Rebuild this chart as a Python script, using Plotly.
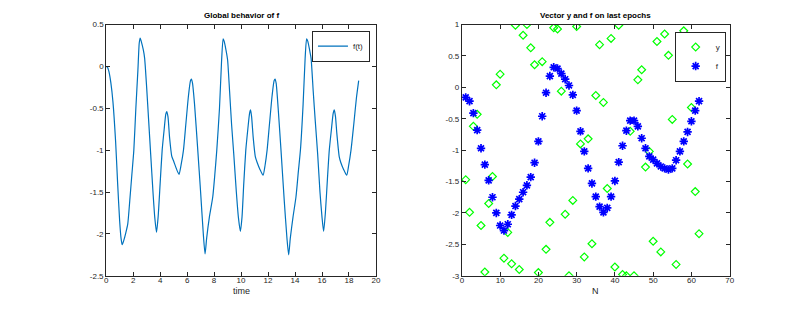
import plotly.graph_objects as go

# ---- left panel: f(t) ----
t_vals = [0, 0.1, 0.2, 0.35, 0.5, 0.7, 0.85, 1.0, 1.1, 1.19, 1.3, 1.45, 1.6, 1.75, 1.9, 2.05,
          2.2, 2.35, 2.45, 2.52, 2.6, 2.75, 2.85, 3.0, 3.15, 3.3, 3.45, 3.6, 3.73, 3.85, 4.0,
          4.15, 4.3, 4.42, 4.49, 4.58, 4.7, 4.86, 5.0, 5.2, 5.4, 5.55, 5.73, 5.9, 6.1, 6.25,
          6.32, 6.4, 6.55, 6.79, 7.0, 7.2, 7.33, 7.45, 7.65, 7.9, 8.05, 8.2, 8.4, 8.55, 8.67,
          8.75, 8.9, 9.0, 9.15, 9.3, 9.46, 9.65, 9.8, 9.95, 10.07, 10.2, 10.35, 10.5, 10.63,
          10.7, 10.78, 10.9, 11.06, 11.2, 11.4, 11.63, 11.78, 11.93, 12.1, 12.3, 12.45, 12.52,
          12.6, 12.75, 12.96, 13.2, 13.4, 13.53, 13.65, 13.85, 14.07, 14.25, 14.4, 14.6, 14.75,
          14.86, 14.95, 15.1, 15.19, 15.35, 15.5, 15.68, 15.85, 16.0, 16.12, 16.25, 16.4, 16.54,
          16.7, 16.83, 16.91, 17.0, 17.1, 17.28, 17.4, 17.6, 17.83, 17.98, 18.15, 18.35, 18.55,
          18.72]
f_vals = [0.0, -0.01, -0.06, -0.2, -0.42, -0.9, -1.4, -1.85, -2.05, -2.13, -2.08, -1.99, -1.88,
          -1.6, -1.3, -1.0, -0.5, -0.05, 0.28, 0.34, 0.3, 0.2, 0.1, -0.25, -0.65, -1.05, -1.45,
          -1.8, -1.98, -1.8, -1.4, -1.0, -0.75, -0.57, -0.54, -0.6, -0.85, -1.07, -1.13, -1.22,
          -1.29, -1.18, -1.0, -0.7, -0.35, -0.17, -0.15, -0.2, -0.45, -1.0, -1.5, -2.0, -2.24,
          -2.05, -1.8, -1.56, -1.3, -1.0, -0.5, 0.05, 0.33, 0.3, 0.18, 0.08, -0.3, -0.7, -1.05,
          -1.5, -1.8, -1.97, -1.8, -1.4, -1.0, -0.75, -0.56, -0.52, -0.6, -0.85, -1.08, -1.15,
          -1.23, -1.30, -1.18, -1.0, -0.7, -0.35, -0.17, -0.15, -0.2, -0.5, -1.0, -1.6, -2.05,
          -2.25, -2.05, -1.8, -1.56, -1.25, -1.0, -0.45, 0.1, 0.33, 0.3, 0.18, 0.1, -0.3, -0.65,
          -1.05, -1.5, -1.8, -1.97, -1.75, -1.35, -1.0, -0.75, -0.56, -0.52, -0.6, -0.8, -1.08,
          -1.15, -1.23, -1.30, -1.18, -1.0, -0.7, -0.38, -0.17]

# ---- right panel: y and f on last epochs ----
N_vals = list(range(1, 63))
y_vec = [-1.47, -1.99, -0.62, -0.43, -2.2, -2.94, -1.85, -1.42, 0.04, 0.21,
         -2.72, -2.31, -2.81, 0.99, -2.90, 0.83, 1.0, 0.63, 0.36, -2.95,
         0.41, -2.58, -2.15, 0.95, 0.93, -0.06, -2.02, -3.0, -1.80, 0.97,
         -0.90, -2.70, -0.82, -2.49, -0.13, 0.68, -0.24, -1.61, 0.78, -2.86,
         0.99, -2.98, -3.0, -0.70, -3.0, 0.12, 0.28, -1.27, -1.02, -2.45,
         0.73, -2.62, 0.85, 0.51, -0.51, -2.82, 0.56, 0.9, -1.22, -0.32,
         -1.66, -2.33]
f_vec = [-0.16, -0.22, -0.41, -0.68, -0.97, -1.23, -1.48, -1.75, -2.0, -2.2,
         -2.28, -2.18, -2.03, -1.89, -1.78, -1.67, -1.56, -1.43, -1.2, -0.86,
         -0.46, -0.085, 0.18, 0.32, 0.30, 0.22, 0.13, 0.03, -0.12, -0.37,
         -0.70, -1.02, -1.29, -1.53, -1.74, -1.90, -1.99, -1.92, -1.74, -1.49,
         -1.19, -0.93, -0.69, -0.53, -0.53, -0.62, -0.81, -0.97, -1.10, -1.15,
         -1.21, -1.26, -1.29, -1.31, -1.29, -1.16, -1.02, -0.86, -0.71, -0.54,
         -0.37, -0.22]

# tick labels
left_xticks = [0, 2, 4, 6, 8, 10, 12, 14, 16, 18, 20]
left_yticks = [0.5, 0, -0.5, -1, -1.5, -2, -2.5]
left_ytext = ["0.5", "0", "-0.5", "-1", "-1.5", "-2", "-2.5"]
right_xticks = [0, 10, 20, 30, 40, 50, 60, 70]
right_yticks = [1, 0.5, 0, -0.5, -1, -1.5, -2, -2.5, -3]
right_ytext = ["1", "0.5", "0", "-0.5", "-1", "-1.5", "-2", "-2.5", "-3"]

OFF = 8  # default body margin of the page
W, H = 792, 288


def fx(px):
    # target screen x -> paper fraction (with a small empirical correction)
    px = (px - 0.8) / 0.992
    return (px - OFF) / W


def fy(py):
    py = (py - 2.6) / 0.972
    return 1 - (py - OFF) / H


AX = "#262626"
FONT = "Liberation Sans, Arial, sans-serif"

fig = go.Figure()
fig.add_trace(go.Scatter(x=t_vals, y=f_vals, mode="lines", name="f(t)",
                         line=dict(color="#0072BD", width=1.2, shape="spline", smoothing=0.6),
                         xaxis="x", yaxis="y", legend="legend"))
fig.add_trace(go.Scatter(x=N_vals, y=y_vec, mode="markers", name="y",
                         marker=dict(symbol="diamond-open", color="#00FF00", size=6,
                                     line=dict(width=1.2, color="#00FF00")),
                         xaxis="x2", yaxis="y2", legend="legend2"))
fig.add_trace(go.Scatter(x=N_vals, y=f_vec, mode="markers", name="f",
                         marker=dict(symbol="asterisk-open", color="#0000FF", size=7,
                                     line=dict(width=1.7, color="#0000FF")),
                         xaxis="x2", yaxis="y2", legend="legend2"))

ytop = fy(23)
ybot = fy(275)
common = dict(showline=True, linecolor=AX, linewidth=1, mirror="ticks", ticks="inside",
              ticklen=4, tickcolor=AX, showgrid=False, zeroline=False,
              tickfont=dict(family=FONT, size=8, color=AX))

legend_common = dict(xanchor="right", yanchor="top", bordercolor=AX, borderwidth=1,
                     bgcolor="white", font=dict(family=FONT, size=8, color=AX),
                     itemwidth=30, tracegroupgap=0)

fig.update_layout(
    width=W, height=H,
    margin=dict(l=0, r=0, t=0, b=0),
    paper_bgcolor="white", plot_bgcolor="white",
    font=dict(family=FONT, size=8, color=AX),
    xaxis=dict(domain=[fx(105), fx(375)], range=[0, 20], tickvals=left_xticks, anchor="y",
               ticklabelstandoff=-3, **common),
    yaxis=dict(domain=[ybot, ytop], range=[-2.5, 0.5], tickvals=left_yticks, ticktext=left_ytext,
               anchor="x", **common),
    xaxis2=dict(domain=[fx(461), fx(729)], range=[0, 70], tickvals=right_xticks, anchor="y2",
                ticklabelstandoff=-3, **common),
    yaxis2=dict(domain=[ybot, ytop], range=[-3, 1], tickvals=right_yticks, ticktext=right_ytext,
                anchor="x2", **common),
    legend=dict(x=fx(369), y=fy(29), **legend_common),
    legend2=dict(x=fx(725), y=fy(30), **legend_common),
    showlegend=True,
    annotations=[
        dict(text="<b>Global behavior of f</b>", x=fx(240), y=fy(14), xref="paper", yref="paper",
             showarrow=False, font=dict(family=FONT, size=8, color="black"), xanchor="center", yanchor="middle"),
        dict(text="<b>Vector y and f on last epochs</b>", x=fx(595), y=fy(14), xref="paper", yref="paper",
             showarrow=False, font=dict(family=FONT, size=8, color="black"), xanchor="center", yanchor="middle"),
        dict(text="time", x=fx(240), y=fy(290), xref="paper", yref="paper",
             showarrow=False, font=dict(family=FONT, size=9, color=AX), xanchor="center", yanchor="middle"),
        dict(text="N", x=fx(595), y=fy(290), xref="paper", yref="paper",
             showarrow=False, font=dict(family=FONT, size=9, color=AX), xanchor="center", yanchor="middle"),
    ],
)

fig.write_html("out.html")
